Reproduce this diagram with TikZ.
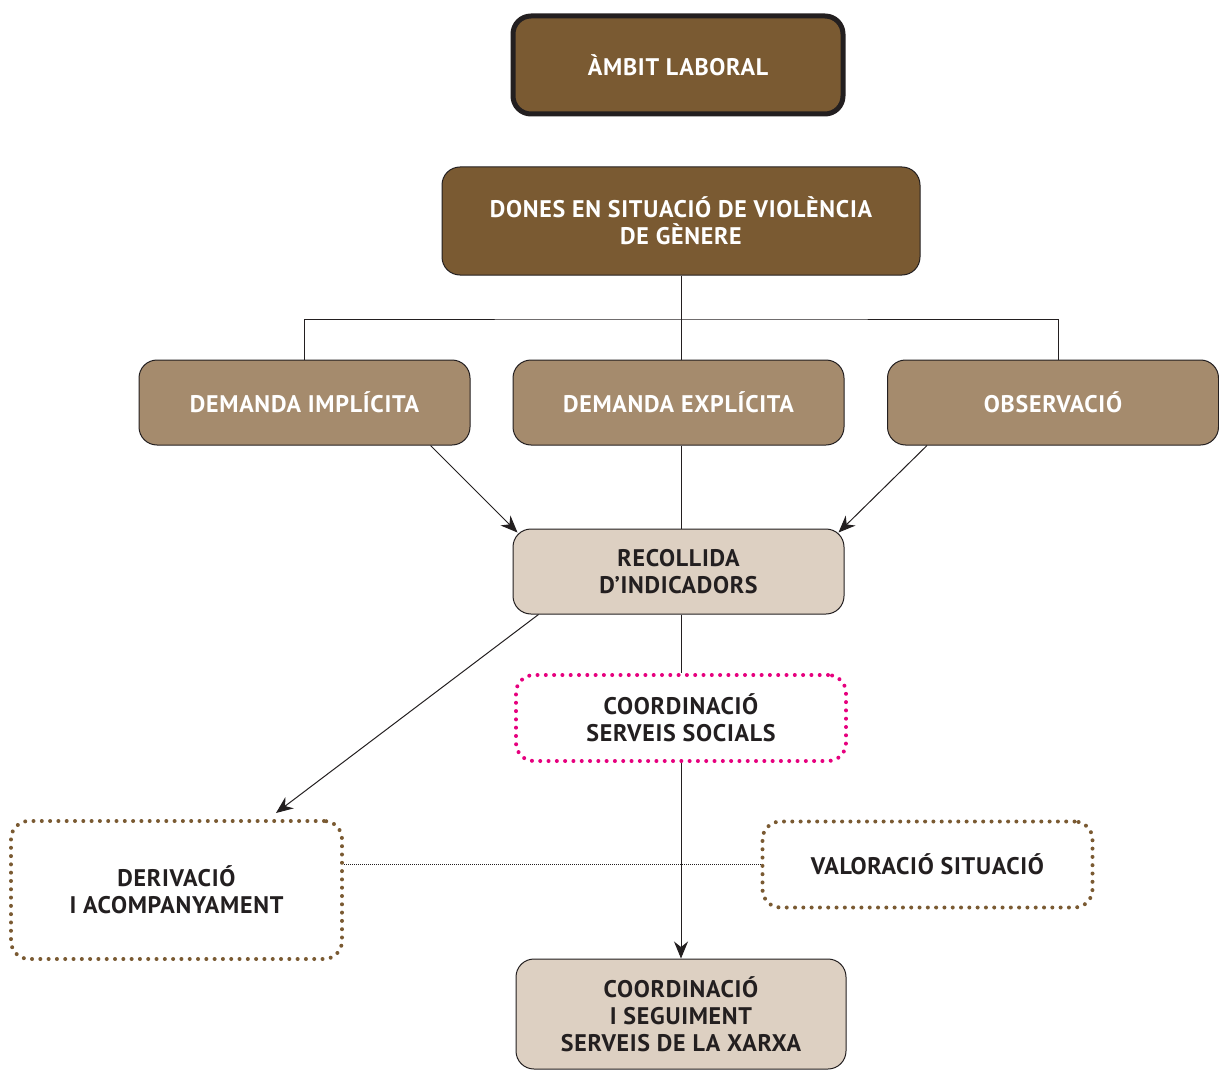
\documentclass[tikz,border=0pt]{standalone}
\usepackage{fontspec}
\setmainfont{PT Sans}[LetterSpace=3]
\usetikzlibrary{arrows.meta}
\definecolor{marro}{HTML}{7A5A32}
\definecolor{marromig}{HTML}{A58B6D}
\definecolor{marroclar}{HTML}{DDD0C2}
\definecolor{negre}{HTML}{231F20}
\definecolor{rosa}{HTML}{E6007E}
\tikzset{
  box/.style={rounded corners=18pt, draw=negre, line width=1pt, align=center,
    font=\bfseries\fontsize{24}{27}\selectfont, inner sep=0pt},
  darkbox/.style={box, fill=marro, text=white},
  midbox/.style={box, fill=marromig, text=white, minimum width=331pt, minimum height=85pt},
  lightbox/.style={box, fill=marroclar, text=negre},
  dotbox/.style={box, text=negre, line width=4pt, line cap=round,
    dash pattern=on 0pt off 8.3pt, minimum height=86pt},
  fletxa/.style={-{Stealth[length=17pt,width=14pt]}, draw=negre, line width=1pt},
  linia/.style={draw=negre, line width=1pt}
}
\begin{document}
\begin{tikzpicture}[x=1pt,y=-1pt]
\clip (0,0) rectangle (1219,1070);
\useasboundingbox (0,0) rectangle (1219,1070);
\node[darkbox, line width=5pt, minimum width=330pt, minimum height=98pt] (ambit) at (678,65) {ÀMBIT LABORAL};
\node[darkbox, minimum width=478pt, minimum height=108pt] (dones) at (681,221) {DONES EN SITUACIÓ DE VIOLÈNCIA\\DE GÈNERE};
\node[midbox] (implicita) at (304.5,402.5) {DEMANDA IMPLÍCITA};
\node[midbox] (explicita) at (678.5,402.5) {DEMANDA EXPLÍCITA};
\node[midbox] (observacio) at (1053,402.5) {OBSERVACIÓ};
\node[lightbox, minimum width=331pt, minimum height=85pt] (recollida) at (678.5,571.5) {RECOLLIDA\\D’INDICADORS};
\node[dotbox, draw=rosa, minimum width=330pt] (serveis) at (681,718) {COORDINACIÓ\\SERVEIS SOCIALS};
\node[dotbox, draw=marro, minimum width=331pt, minimum height=138pt] (derivacio) at (176.5,890) {DERIVACIÓ\\I ACOMPANYAMENT};
\node[dotbox, draw=marro, minimum width=330pt] (valoracio) at (927.5,864.5) {VALORACIÓ SITUACIÓ};
\node[lightbox, minimum width=330pt, minimum height=110pt] (xarxa) at (681,1014) {COORDINACIÓ\\I SEGUIMENT\\SERVEIS DE LA XARXA};
% arbre de les demandes
\coordinate (nus) at (681,319);
\draw[linia] (dones.south -| nus) -- (explicita.north -| nus);
\draw[linia] (implicita.north) |- (nus) -| ([xshift=5pt]observacio.north);
% cap a la recollida
\draw[fletxa] ([xshift=-40pt]implicita.south east) -- ([shift={(5pt,-4pt)}]recollida.north west);
\draw[fletxa] ([xshift=40pt]observacio.south west) -- ([shift={(-6pt,-4pt)}]recollida.north east);
\draw[linia] (explicita.south -| nus) -- (recollida.north -| nus);
\draw[linia] (recollida.south -| nus) -- (serveis.north -| nus);
\draw[fletxa] ([xshift=26pt]recollida.south west) -- ([xshift=267pt,yshift=6pt]derivacio.north west);
\draw[fletxa] (serveis.south -| nus) -- (xarxa.north -| nus);
\draw[negre, line width=0.6pt, dash pattern=on 1pt off 1pt] (derivacio.east |- valoracio.west) -- (valoracio.west);
\end{tikzpicture}
\end{document}
